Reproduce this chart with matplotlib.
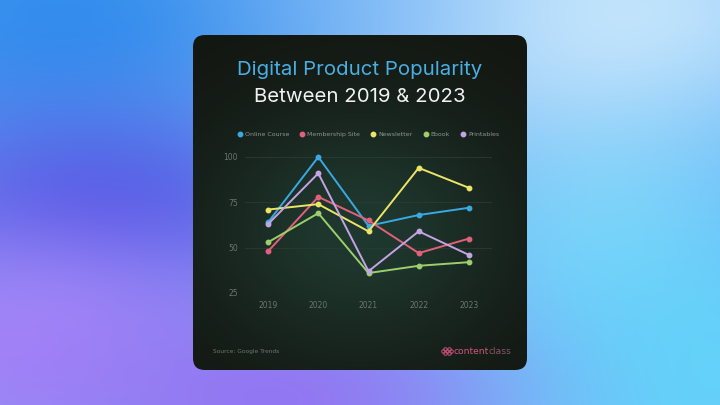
import numpy as np
import matplotlib.pyplot as plt
from matplotlib.patches import FancyBboxPatch
from matplotlib.transforms import offset_copy

years = [2019, 2020, 2021, 2022, 2023]
online_course = [64, 100, 62, 68, 72]
membership_site = [48, 78, 65, 47, 55]
newsletter = [71, 74, 59, 94, 83]
ebook = [53, 69, 36, 40, 42]
printables = [63, 91, 37, 59, 46]
series_names = ["Online Course", "Membership Site", "Newsletter", "Ebook", "Printables"]
y_ticks = [25, 50, 75, 100]

colors = ["#3aa9e2", "#e2607c", "#ece466", "#9ccf6c", "#c4a4e2"]

W, H = 720, 405
fig = plt.figure(figsize=(7.2, 4.05), dpi=100)

# background gradient
bg = fig.add_axes([0, 0, 1, 1])
bg.set_axis_off()
yy, xx = np.mgrid[0:H, 0:W]
img = np.zeros((H, W, 3))
img[:] = np.array([0.48, 0.68, 0.96])


def blob(cx, cy, rx, ry, col, strength=1.0):
    d = np.exp(-(((xx - cx) ** 2) / (2 * rx ** 2) + ((yy - cy) ** 2) / (2 * ry ** 2))) * strength
    return d[..., None] * (np.array(col) - img)


img += blob(720, 200, 120, 200, [0.33, 0.65, 0.97], 0.8)
img += blob(600, 250, 130, 150, [0.50, 0.84, 0.98], 0.9)
img += blob(690, 380, 160, 110, [0.38, 0.84, 0.98], 0.9)
img += blob(560, 10, 220, 90, [0.80, 0.92, 0.99], 1.0)
img += blob(330, 0, 150, 70, [0.62, 0.80, 0.98], 0.8)
img += blob(60, 20, 200, 110, [0.20, 0.56, 0.93], 1.0)
img += blob(90, 215, 150, 75, [0.26, 0.32, 0.88], 1.0)
img += blob(30, 345, 170, 100, [0.64, 0.52, 0.97], 1.0)
img += blob(280, 400, 160, 70, [0.58, 0.45, 0.95], 0.9)
img = np.clip(img, 0, 1)
bg.imshow(img, extent=[0, W, 0, H], origin="upper", aspect="auto")
bg.set_xlim(0, W)
bg.set_ylim(0, H)

# card
cx0, cy0, cx1, cy1 = 193, 35, 527, 370
card = FancyBboxPatch((cx0, H - cy1), cx1 - cx0, cy1 - cy0,
                      boxstyle="round,pad=0,rounding_size=12",
                      fc="#131611", ec="none", zorder=2)
bg.add_patch(card)

# greenish glow inside the card
gy, gx = np.mgrid[0:cy1 - cy0, 0:cx1 - cx0]
g = np.exp(-(((gx - 165) ** 2) / (2 * 110 ** 2) + ((gy - 195) ** 2) / (2 * 90 ** 2)))
glow = np.zeros((cy1 - cy0, cx1 - cx0, 4))
glow[..., 0] = 0.13
glow[..., 1] = 0.25
glow[..., 2] = 0.21
glow[..., 3] = g * 0.85
gi = bg.imshow(glow, extent=[cx0, cx1, H - cy1, H - cy0], origin="upper",
               aspect="auto", zorder=3)
gi.set_clip_path(card)

# titles
fig.text(360 / W, 1 - 70 / H, "Digital Product Popularity", color="#4aaee2",
         fontsize=14.7, ha="center", va="center", family="Inter")
fig.text(360 / W, 1 - 97 / H, "Between 2019 & 2023", color="#f2f2f2",
         fontsize=14.7, ha="center", va="center", family="Inter")

# chart
ax = fig.add_axes([245 / W, 1 - 293 / H, 247 / W, 136 / H])
ax.set_facecolor("none")
data = [online_course, membership_site, newsletter, ebook, printables]
for vals, c, name in zip(data, colors, series_names):
    ax.plot(years, vals, color=c, lw=1.4, marker="o", ms=3.2, label=name,
            clip_on=False, zorder=3)

ax.set_xlim(2018.54, 2023.46)
ax.set_ylim(25, 100)
ax.set_xticks(years)
ax.set_yticks(y_ticks)
ax.tick_params(length=0, colors="#6d7570", labelsize=5.5, pad=5)
ax.tick_params(axis="x", pad=6)
for s in ax.spines.values():
    s.set_visible(False)
ax.grid(axis="y", color="#2c3a33", lw=0.6)
ax.grid(axis="x", visible=False)

leg = ax.legend(loc="center", bbox_to_anchor=(0.5, 1 + (157 - 134) / 136),
                ncol=5, frameon=False, fontsize=4.5, handlelength=0.6,
                handletextpad=0.5, columnspacing=1.8, markerscale=1.0)
for h in leg.legend_handles:
    h.set_linestyle("none")
for t in leg.get_texts():
    t.set_color("#8d948f")

# footer
fig.text(213 / W, 1 - 351 / H, "Source: Google Trends", color="#6d7570",
         fontsize=4.2, ha="left", va="center")
t1 = fig.text(454 / W, 1 - 351 / H, "content", color="#d0557a", fontsize=6.6,
              ha="left", va="center")
bg.annotate("class", xy=(1, 0.5), xycoords=t1, xytext=(-0.8, 0),
            textcoords="offset points", color="#8a5468", fontsize=6.6,
            ha="left", va="center")
for dx, dy in [(-3, -2), (1, -2), (-3, 2), (1, 2), (-1, 0), (-5, 0), (3, 0)]:
    bg.plot(448 + dx, H - 351 + dy, marker="o", ms=2.6, mfc="none",
            mec="#c84f7a", mew=0.7, zorder=5)

fig.savefig("out.png", dpi=100)
